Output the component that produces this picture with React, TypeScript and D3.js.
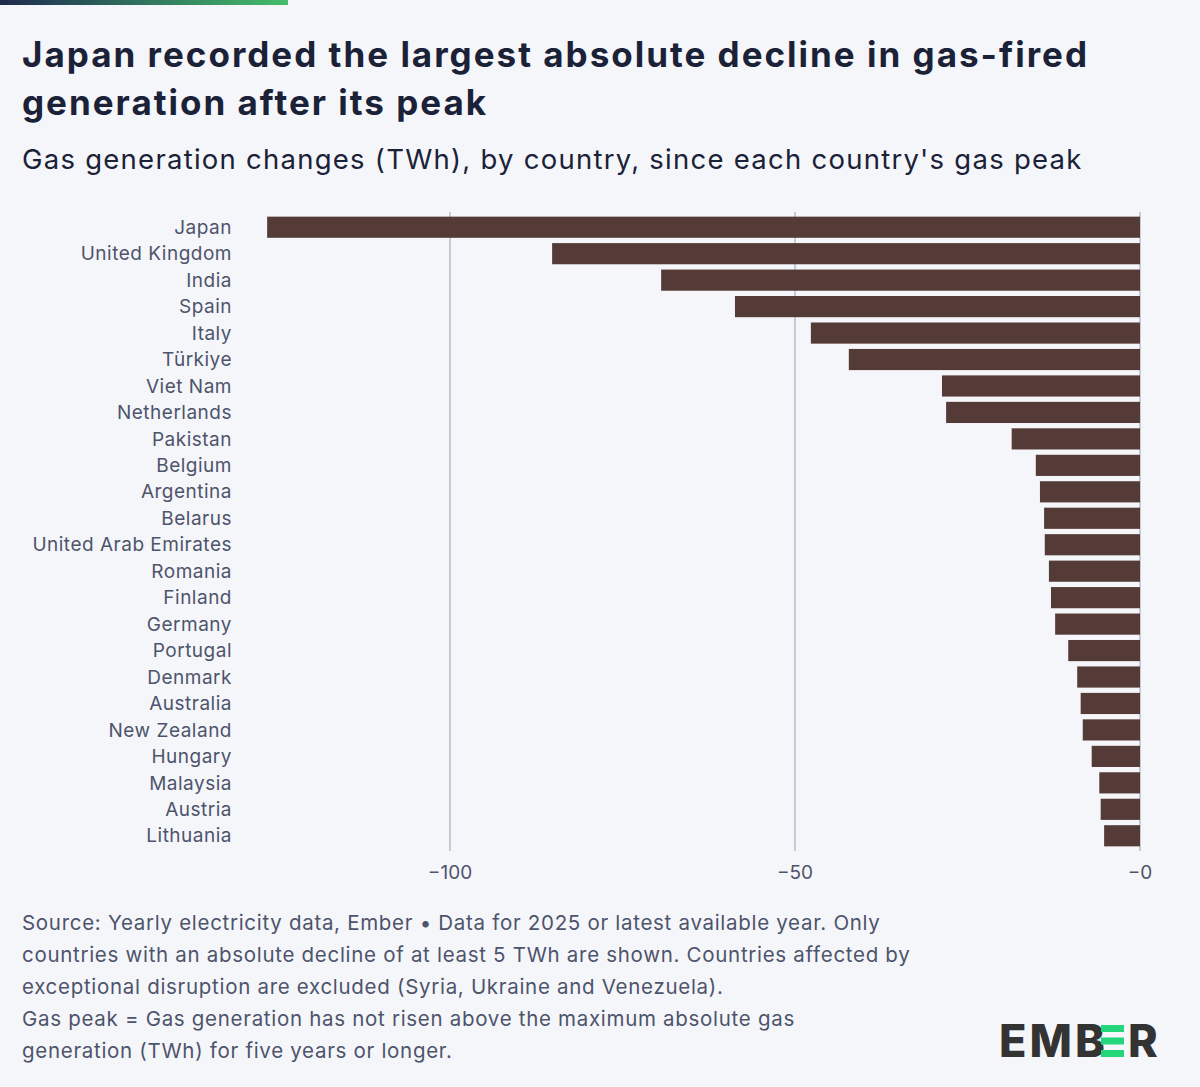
import React, { useRef, useEffect } from 'react';
import * as d3 from 'd3';

const countries = ['Japan', 'United Kingdom', 'India', 'Spain', 'Italy', 'Türkiye', 'Viet Nam', 'Netherlands', 'Pakistan', 'Belgium', 'Argentina', 'Belarus', 'United Arab Emirates', 'Romania', 'Finland', 'Germany', 'Portugal', 'Denmark', 'Australia', 'New Zealand', 'Hungary', 'Malaysia', 'Austria', 'Lithuania'];
const changes = [-126.5, -85.2, -69.4, -58.7, -47.7, -42.2, -28.7, -28.1, -18.6, -15.1, -14.5, -13.9, -13.8, -13.2, -12.9, -12.3, -10.4, -9.1, -8.6, -8.3, -7.0, -5.9, -5.7, -5.2];
const ticks = [-100, -50, 0];
const footer = [
  'Source: Yearly electricity data, Ember • Data for 2025 or latest available year. Only',
  'countries with an absolute decline of at least 5 TWh are shown. Countries affected by',
  'exceptional disruption are excluded (Syria, Ukraine and Venezuela).',
  'Gas peak = Gas generation has not risen above the maximum absolute gas',
  'generation (TWh) for five years or longer.',
];

const W = 1200, H = 1087;
const FONT = 'Inter, "Noto Sans", sans-serif';

const App: React.FC = () => {
  const ref = useRef<SVGSVGElement | null>(null);

  useEffect(() => {
    const svg = d3.select(ref.current);
    svg.selectAll('*').remove();

    svg.append('rect').attr('width', W).attr('height', H).attr('fill', '#f5f6fa');

    const grad = svg.append('defs').append('linearGradient').attr('id', 'topg');
    grad.append('stop').attr('offset', '0%').attr('stop-color', '#1e2a4e');
    grad.append('stop').attr('offset', '100%').attr('stop-color', '#44be6c');
    svg.append('rect').attr('width', 288).attr('height', 5).attr('fill', 'url(#topg)');

    const title = svg.append('g').attr('font-size', 35).attr('font-weight', 700)
      .attr('fill', '#1b2238').attr('font-family', FONT).attr('letter-spacing', 2);
    title.append('text').attr('x', 22).attr('y', 67).text('Japan recorded the largest absolute decline in gas-fired');
    title.append('text').attr('x', 22).attr('y', 115).text('generation after its peak');
    svg.append('text').attr('x', 22).attr('y', 169).attr('font-size', 27.5).attr('letter-spacing', 1.25)
      .attr('fill', '#1b2238').attr('font-family', FONT).text("Gas generation changes (TWh), by country, since each country's gas peak");

    const x = d3.scaleLinear().domain([-100, 0]).range([450, 1140]);
    const y = d3.scaleBand().domain(countries).range([214, 849]).paddingInner(0.2).paddingOuter(0.1);

    svg.append('g').selectAll('line').data(ticks).join('line')
      .attr('x1', d => x(d)).attr('x2', d => x(d)).attr('y1', 212).attr('y2', 851)
      .attr('stroke', '#b8bcc6').attr('stroke-width', 1.5);

    svg.append('g').selectAll('rect').data(countries).join('rect')
      .attr('x', (_, i) => x(changes[i]))
      .attr('width', (_, i) => x(0) - x(changes[i]))
      .attr('y', d => y(d)!)
      .attr('height', y.bandwidth())
      .attr('fill', '#553b37');

    svg.append('g').selectAll('text').data(countries).join('text')
      .attr('x', 232).attr('y', d => y(d)! + y.bandwidth() / 2)
      .attr('dy', '0.35em').attr('text-anchor', 'end').attr('letter-spacing', 0.5)
      .attr('font-size', 19).attr('fill', '#4d546b').attr('font-family', FONT).text(d => d);

    svg.append('g').selectAll('text').data(ticks).join('text')
      .attr('x', d => x(d)).attr('y', 879).attr('text-anchor', 'middle')
      .attr('font-size', 19).attr('fill', '#4d546b').attr('font-family', FONT)
      .text(d => (d === 0 ? '−0' : '−' + Math.abs(d)));

    svg.append('g').selectAll('text').data(footer).join('text')
      .attr('x', 22).attr('y', (_, i) => 930 + i * 32).attr('letter-spacing', 0.7)
      .attr('font-size', 20.5).attr('fill', '#4d546b').attr('font-family', FONT).text(d => d);

    // logo
    const logo = svg.append('g').attr('font-family', FONT).attr('font-weight', 800)
      .attr('font-size', 45).attr('fill', '#333333');
    logo.append('text').attr('x', 999).attr('y', 1057).attr('letter-spacing', 3).text('EMB');
    [0, 1, 2].forEach(i => logo.append('rect').attr('x', 1101).attr('y', 1025 + i * 12.5)
      .attr('width', 23).attr('height', 7).attr('fill', '#23d67a'));
    logo.append('text').attr('x', 1128).attr('y', 1057).text('R');
  }, []);

  return (
    <div style={{ position: 'fixed', top: 0, left: 0 }}>
      <svg ref={ref} width={W} height={H} style={{ display: 'block' }}></svg>
    </div>
  );
};

export default App;
